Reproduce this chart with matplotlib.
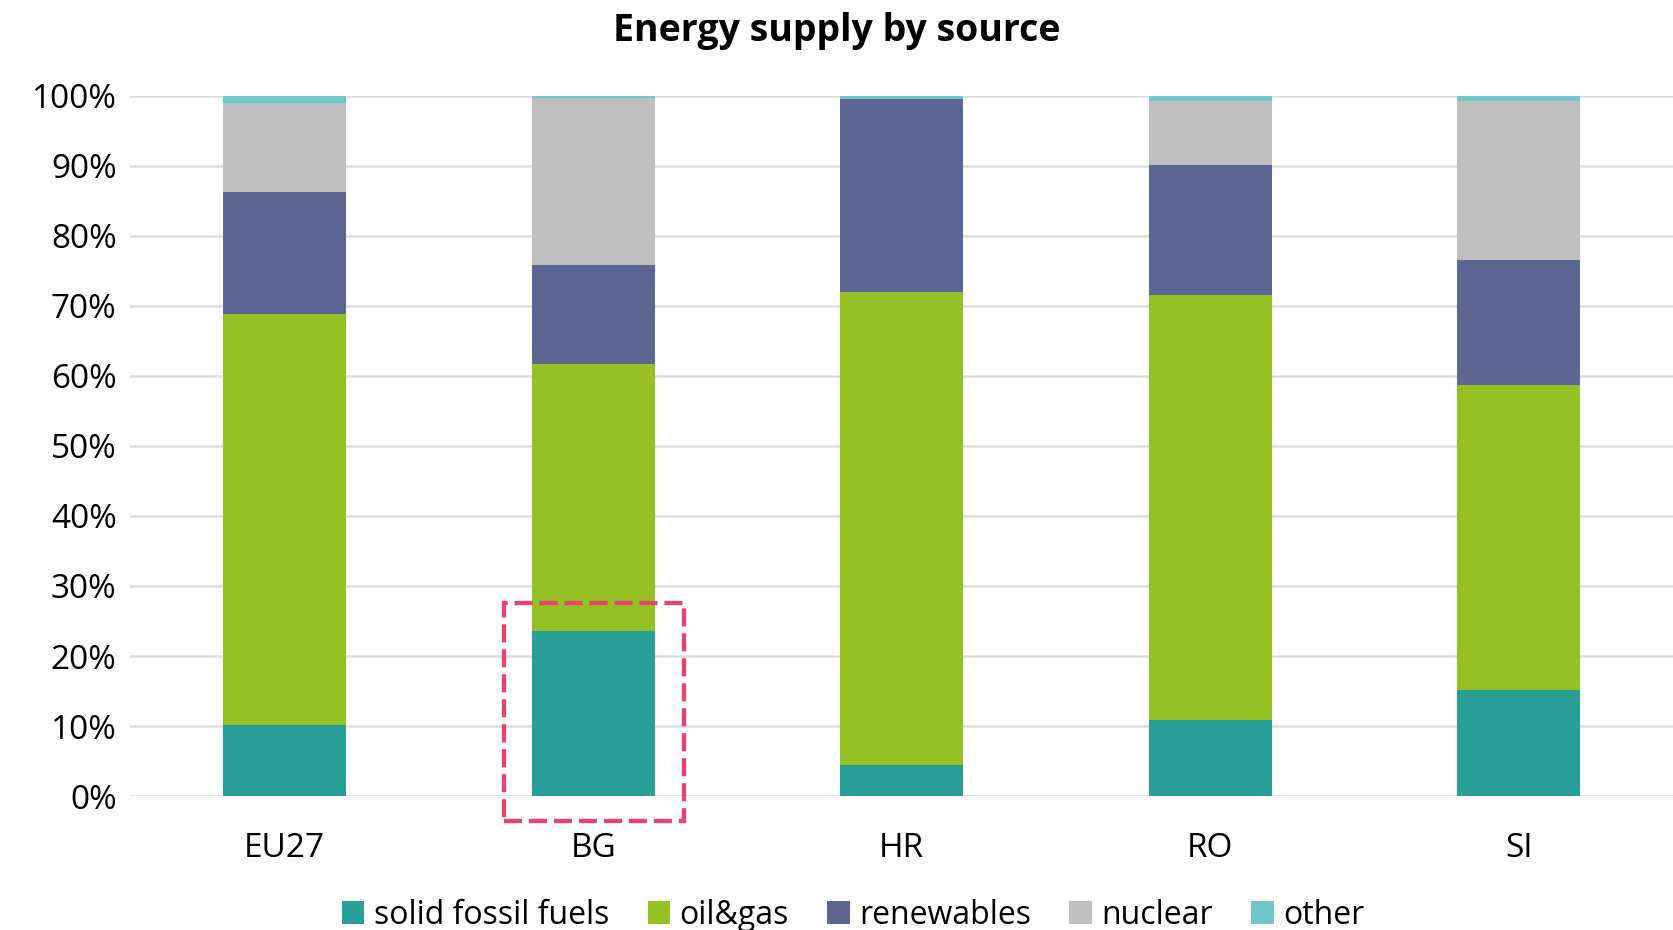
import numpy as np
import matplotlib.pyplot as plt
from matplotlib.patches import Rectangle

# Share of energy supply by source (%)
countries = ['EU27', 'BG', 'HR', 'RO', 'SI']
sources = ['solid fossil fuels', 'oil&gas', 'renewables', 'nuclear', 'other']
solid_fossil = [10.2, 23.6, 4.4, 10.8, 15.2]
oil_gas = [58.7, 38.1, 67.6, 60.7, 43.5]
renewables = [17.4, 14.1, 27.5, 18.6, 17.8]
nuclear = [12.7, 23.9, 0.0, 9.1, 22.8]
other = [1.0, 0.3, 0.5, 0.8, 0.7]

colors = ['#279E96', '#96C124', '#5D6593', '#BFBFBF', '#6EC8C8']

plt.rcParams['font.family'] = ['Open Sans', 'DejaVu Sans']

fig = plt.figure(figsize=(16.73, 9.3), dpi=100)
ax = fig.add_axes([0.078, 0.144, 0.922, 0.753])

x = np.arange(len(countries))
bottom = np.zeros(len(countries))
for name, vals, c in zip(sources, [solid_fossil, oil_gas, renewables, nuclear, other], colors):
    ax.bar(x, vals, width=0.4, bottom=bottom, color=c, label=name, zorder=3)
    bottom += np.array(vals)

ax.set_xlim(-0.5, len(countries) - 0.5)
ax.set_ylim(0, 100)
ax.set_yticks(np.arange(0, 101, 10))
ax.set_yticklabels([f'{v}%' for v in range(0, 101, 10)], fontsize=24)
ax.set_xticks(x)
ax.set_xticklabels(countries, fontsize=24)
ax.tick_params(length=0, pad=10)
ax.tick_params(axis='x', pad=26)
ax.grid(axis='y', color='#DADFDE', linewidth=1.8, zorder=0)
for s in ax.spines.values():
    s.set_visible(False)

# highlight BG solid fuels
ax.add_patch(Rectangle((0.71, -3.5), 0.585, 31.1, fill=False, edgecolor='#E8426F',
                       linewidth=3.1, linestyle=(0, (4.2, 1.6)), clip_on=False, zorder=4))

fig.suptitle('Energy supply by source', fontsize=27, fontweight='bold', y=0.967, va='center')
fig.legend(loc='center', bbox_to_anchor=(0.51, 0.016), ncol=5, frameon=False,
           fontsize=23, handlelength=0.7, handleheight=0.7, handletextpad=0.3,
           columnspacing=1.2)

fig.savefig('out.png', dpi=100)
